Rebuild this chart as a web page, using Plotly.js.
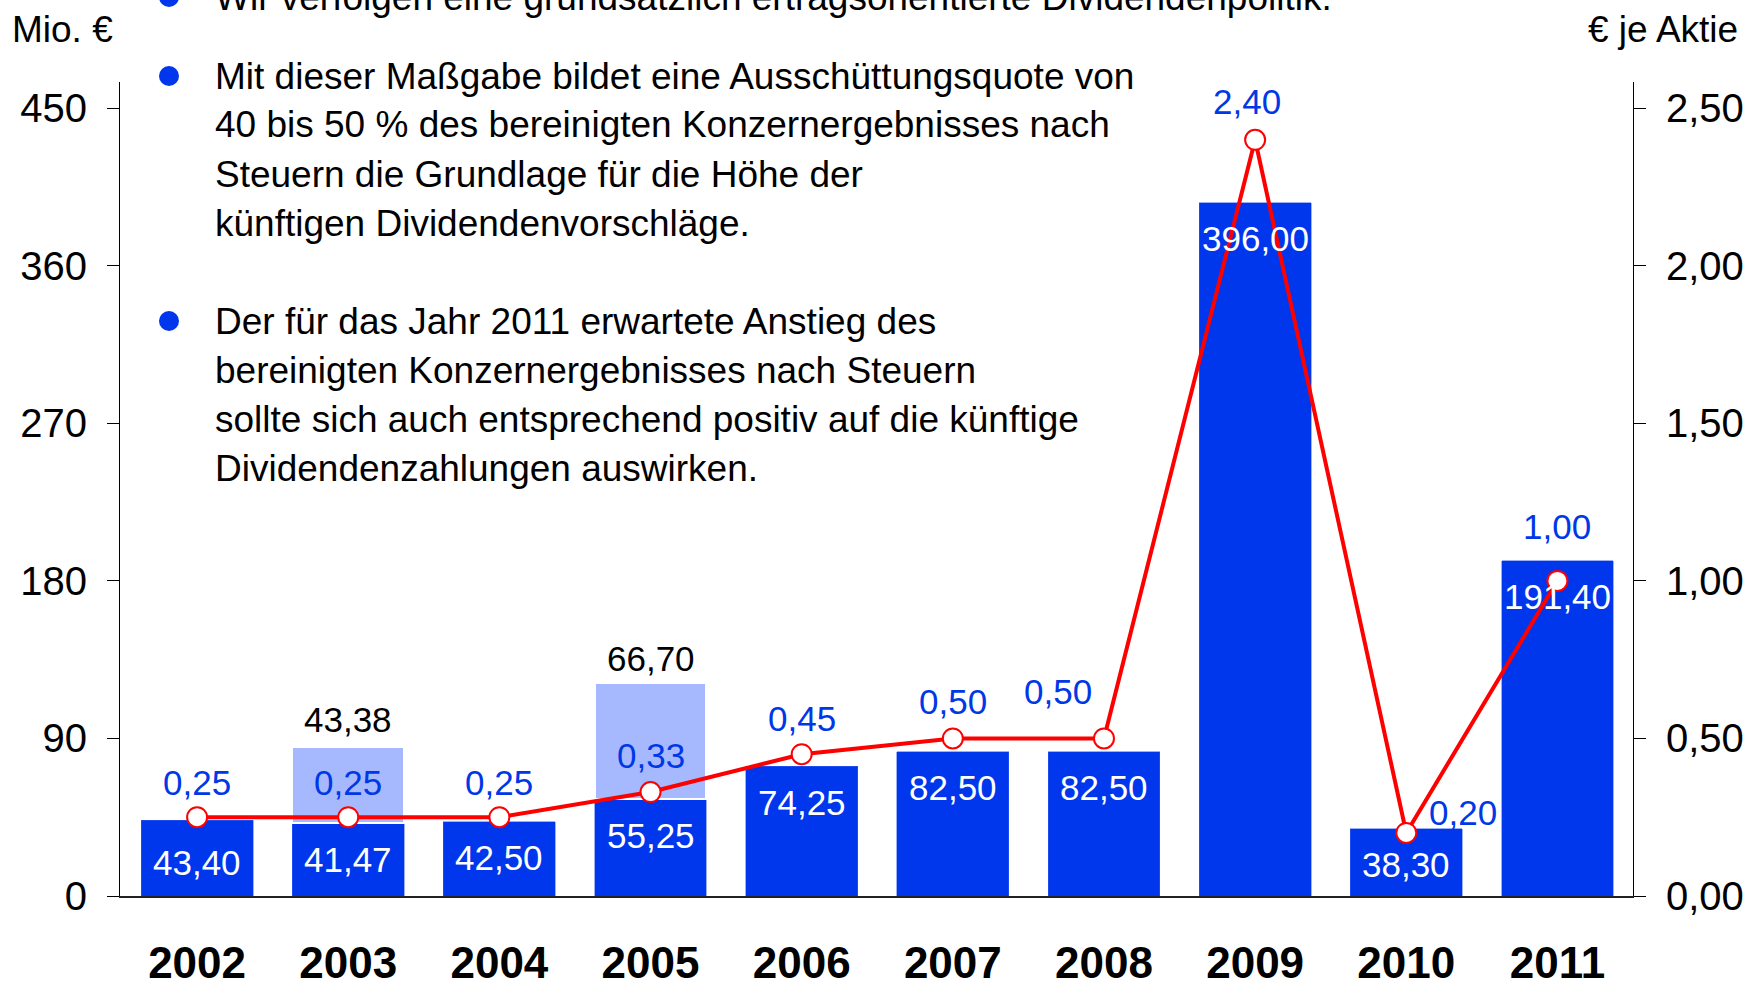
<!DOCTYPE html>
<html>
<head>
<meta charset="utf-8">
<script src="https://cdn.plot.ly/plotly-3.0.1.min.js"></script>
<style>
  html, body { margin: 0; padding: 0; background: #ffffff; overflow: hidden; }
  #chart { width: 1746px; height: 986px; }
</style>
</head>
<body>
<div id="chart"></div>
<script>
// ---- data ----
var years = ['2002','2003','2004','2005','2006','2007','2008','2009','2010','2011'];
var dividendTotal = [43.40, 41.47, 42.50, 55.25, 74.25, 82.50, 82.50, 396.00, 38.30, 191.40];   // Mio. €
var specialDividend = [null, 43.38, null, 66.70, null, null, null, null, null, null];             // Mio. €
var dividendPerShare = [0.25, 0.25, 0.25, 0.33, 0.45, 0.50, 0.50, 2.40, 0.20, 1.00];              // € je Aktie
var leftTicks = [0, 90, 180, 270, 360, 450];
var rightTicks = [0, 0.5, 1.0, 1.5, 2.0, 2.5];
var bulletTop = 'Wir verfolgen eine grundsätzlich ertragsorientierte Dividendenpolitik.';
var bullet1 = ['Mit dieser Maßgabe bildet eine Ausschüttungsquote von',
               '40 bis 50 % des bereinigten Konzernergebnisses nach',
               'Steuern die Grundlage für die Höhe der',
               'künftigen Dividendenvorschläge.'];
var bullet2 = ['Der für das Jahr 2011 erwartete Anstieg des',
               'bereinigten Konzernergebnisses nach Steuern',
               'sollte sich auch entsprechend positiv auf die künftige',
               'Dividendenzahlungen auswirken.'];

// ---- label placement (pixels) ----
var lineLabelDx = [0, 0, 0, 0, 0, 0, -46, -8, 57, 0];
var lineLabelDy = [35, 35, 35, 37, 36, 37, 47, 38, 20, 54];
var barLabelDy = [42, 36, 36, 36, 36, 36, 36, 36, 36, 36];
var specialLabelDy = [0, 28, 0, 24, 0, 0, 0, 0, 0, 0];

// ---- style ----
var DARK = '#0037EC';
var LIGHT = '#A6B9FF';
var BLUE_TXT = '#0037E6';
var RED = '#FF0000';
var FONT = 'Arial, "Liberation Sans", Helvetica, sans-serif';

function fmt(v) { return v.toFixed(2).replace('.', ','); }

// layout geometry
var W = 1746, H = 986;
var M = {l: 120, r: 113, t: 82, b: 90};
var PW = W - M.l - M.r, PH = H - M.t - M.b;
function px(x) { return (x - M.l) / PW; }
function py(y) { return (H - M.b - y) / PH; }

var leftMax = 465;
var rightMax = 2.5 * leftMax / 450;

var traces = [
  {
    type: 'bar', x: years, y: dividendTotal, marker: {color: DARK, line: {color: '#3a62f0', width: 0.5}},
    hoverinfo: 'skip', yaxis: 'y'
  },
  {
    type: 'bar', x: years, y: specialDividend, marker: {color: LIGHT, line: {color: '#ffffff', width: 2}},
    hoverinfo: 'skip', yaxis: 'y'
  },
  {
    type: 'scatter', mode: 'lines+markers', x: years, y: dividendPerShare, yaxis: 'y2',
    line: {color: RED, width: 4},
    marker: {size: 20, color: '#ffffff', line: {color: RED, width: 2}},
    hoverinfo: 'skip', cliponaxis: false
  }
];

var annotations = [];
// value labels (x given as category index)
years.forEach(function (yr, i) {
  annotations.push({
    x: i, y: dividendTotal[i], xref: 'x', yref: 'y', yshift: -barLabelDy[i],
    text: fmt(dividendTotal[i]), showarrow: false, yanchor: 'middle', xanchor: 'center',
    font: {family: FONT, size: 35, color: '#ffffff'}
  });
  if (specialDividend[i] !== null) {
    annotations.push({
      x: i, y: dividendTotal[i] + specialDividend[i], xref: 'x', yref: 'y', yshift: specialLabelDy[i],
      text: fmt(specialDividend[i]), showarrow: false, yanchor: 'middle', xanchor: 'center',
      font: {family: FONT, size: 35, color: '#000000'}
    });
  }
  annotations.push({
    x: i, y: dividendPerShare[i], xref: 'x', yref: 'y2', yshift: lineLabelDy[i], xshift: lineLabelDx[i],
    text: fmt(dividendPerShare[i]), showarrow: false, yanchor: 'middle', xanchor: 'center',
    font: {family: FONT, size: 35, color: BLUE_TXT}
  });
});

// axis titles
annotations.push({xref: 'paper', yref: 'paper', x: px(10), y: py(29), xanchor: 'left', yanchor: 'middle',
  text: 'Mio. €', showarrow: false, font: {family: FONT, size: 37, color: '#000'}});
annotations.push({xref: 'paper', yref: 'paper', x: px(1740), y: py(29), xanchor: 'right', yanchor: 'middle',
  text: '€ je Aktie', showarrow: false, font: {family: FONT, size: 37, color: '#000'}});

// bullet text
var shapes = [];
function addLines(lines, startY, withBullet) {
  lines.forEach(function (t, k) {
    var yy = startY + k * 49;
    annotations.push({xref: 'paper', yref: 'paper', x: px(213), y: py(yy), xanchor: 'left', yanchor: 'middle',
      text: t, showarrow: false, font: {family: FONT, size: 37, color: '#000'}});
  });
  if (withBullet) {
    shapes.push({type: 'circle', xref: 'paper', yref: 'paper', xsizemode: 'pixel', ysizemode: 'pixel',
      xanchor: px(169), yanchor: py(startY), x0: -10, x1: 10, y0: -10, y1: 10,
      fillcolor: DARK, line: {width: 0}});
  }
}
addLines([bulletTop], -3, true);
addLines(bullet1, 76, true);
addLines(bullet2, 321, true);

var layout = {
  width: W, height: H,
  margin: M,
  paper_bgcolor: '#ffffff', plot_bgcolor: '#ffffff',
  showlegend: false,
  barmode: 'stack', bargap: 0.26,
  hovermode: false,
  font: {family: FONT, color: '#000'},
  xaxis: {
    type: 'category', range: [-0.51, 9.5], showgrid: false, zeroline: false,
    showline: true, linecolor: '#222222', linewidth: 2, ticks: '',
    tickfont: {family: FONT, size: 44, color: '#000', weight: 'bold'},
    ticklabelstandoff: 27, fixedrange: true
  },
  yaxis: {
    range: [0, leftMax], tickvals: leftTicks, ticktext: leftTicks.map(String),
    showgrid: false, zeroline: false, showline: true, linecolor: '#000', linewidth: 1,
    ticks: 'outside', ticklen: 12, tickcolor: '#000', tickwidth: 1,
    tickfont: {family: FONT, size: 40, color: '#000'}, ticklabelstandoff: 12, fixedrange: true
  },
  yaxis2: {
    overlaying: 'y', side: 'right', range: [0, rightMax], tickvals: rightTicks,
    ticktext: rightTicks.map(fmt),
    showgrid: false, zeroline: false, showline: true, linecolor: '#000', linewidth: 1,
    ticks: 'outside', ticklen: 12, tickcolor: '#000', tickwidth: 1,
    tickfont: {family: FONT, size: 40, color: '#000'}, ticklabelstandoff: 12, fixedrange: true
  },
  annotations: annotations,
  shapes: shapes
};

Plotly.newPlot('chart', traces, layout, {displayModeBar: false, staticPlot: true});
</script>
</body>
</html>
